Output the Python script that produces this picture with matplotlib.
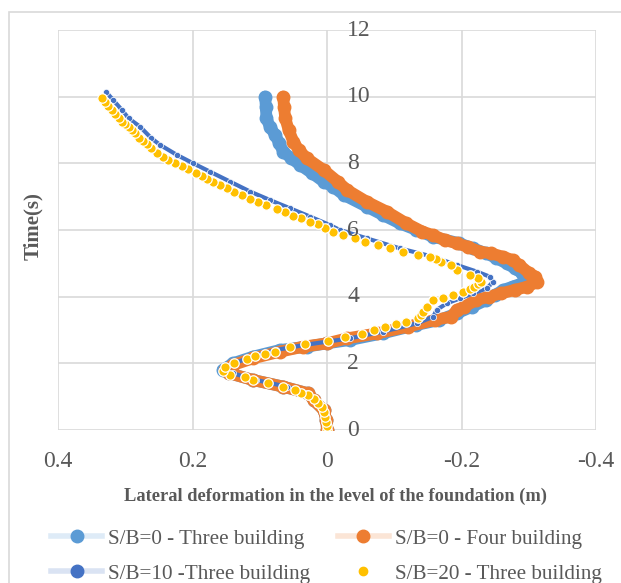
import matplotlib.pyplot as plt
from matplotlib.lines import Line2D
from matplotlib.patches import Rectangle

plt.rcParams['font.family'] = ['Liberation Serif', 'DejaVu Serif']

# S/B=0 - Three building
t_sb0_three = [0, 0.3, 0.6, 0.9, 1.1, 1.3, 1.5, 1.7, 1.8, 2.0, 2.2, 2.4, 2.5, 2.6, 2.7,
               2.9, 3.15, 3.3, 3.5, 3.7, 3.9, 4.05, 4.2, 4.3, 4.4, 4.5, 4.6, 4.7, 4.85,
               5.0, 5.15, 5.3, 5.45, 5.6, 5.8, 6.0, 6.2, 6.45, 6.7, 7.05, 7.3, 7.45,
               7.7, 7.95, 8.15, 8.35, 8.6, 8.85, 9.1, 9.35, 9.7, 10.0]
x_sb0_three = [0, 0.001, 0.005, 0.02, 0.028, 0.065, 0.11, 0.145, 0.155, 0.14, 0.11, 0.07,
               0.03, 0.0, -0.034, -0.083, -0.133, -0.167, -0.193, -0.216, -0.237, -0.25,
               -0.262, -0.276, -0.29, -0.305, -0.298, -0.29, -0.279, -0.267, -0.252,
               -0.237, -0.217, -0.197, -0.157, -0.133, -0.108, -0.083, -0.059, -0.025,
               -0.009, 0.005, 0.022, 0.040, 0.053, 0.065, 0.071, 0.077, 0.085, 0.090,
               0.091, 0.092]

# S/B=0 - Four building
t_sb0_four = [0, 0.3, 0.6, 0.9, 1.1, 1.3, 1.5, 1.7, 1.8, 1.95, 2.15, 2.35, 2.5, 2.6,
              2.75, 2.9, 3.1, 3.3, 3.4, 3.6, 3.7, 3.9, 4.0, 4.1, 4.2, 4.3, 4.45, 4.6,
              4.7, 4.95, 5.1, 5.2, 5.3, 5.35, 5.5, 5.6, 5.7, 5.85, 5.95, 6.2, 6.55,
              6.85, 7.2, 7.45, 7.8, 8.15, 8.4, 8.65, 9.0, 9.35, 9.7, 10.0]
x_sb0_four = [0, 0.001, 0.005, 0.02, 0.028, 0.065, 0.11, 0.145, 0.152, 0.14, 0.11, 0.07,
              0.035, 0.0, -0.03, -0.075, -0.12, -0.16, -0.185, -0.193, -0.204, -0.222,
              -0.241, -0.259, -0.279, -0.298, -0.313, -0.31, -0.301, -0.286, -0.276,
              -0.261, -0.244, -0.227, -0.209, -0.193, -0.175, -0.157, -0.142, -0.118,
              -0.089, -0.059, -0.03, -0.016, 0.005, 0.030, 0.042, 0.050, 0.057, 0.062,
              0.064, 0.065]

# S/B=10 - Three building
t_sb10 = [0, 0.3, 0.6, 0.9, 1.1, 1.3, 1.5, 1.7, 1.85, 2.0, 2.2, 2.4, 2.55, 2.65, 2.75,
          2.95, 3.2, 3.4, 3.6, 3.8, 3.95, 4.1, 4.25, 4.45, 4.6, 4.75, 4.95, 5.2, 5.45,
          5.75, 6.0, 6.15, 6.4, 6.65, 6.9, 7.15, 7.45, 7.75, 8.0, 8.25, 8.55, 8.75,
          9.1, 9.35, 9.6, 9.9, 10.13]
x_sb10 = [0, 0.002, 0.008, 0.018, 0.03, 0.06, 0.105, 0.14, 0.152, 0.138, 0.112, 0.076,
          0.034, 0.0, -0.034, -0.083, -0.134, -0.158, -0.163, -0.178, -0.198, -0.217,
          -0.238, -0.247, -0.242, -0.223, -0.193, -0.157, -0.108, -0.059, -0.019,
          -0.004, 0.025, 0.055, 0.085, 0.114, 0.144, 0.174, 0.199, 0.223, 0.248,
          0.261, 0.278, 0.295, 0.305, 0.318, 0.328]

# S/B=20 - Three building
t_sb20 = [0, 0.12, 0.25, 0.4, 0.55, 0.68, 0.8, 0.92, 1.05, 1.12, 1.2, 1.3, 1.42, 1.5,
          1.58, 1.65, 1.78, 1.9, 2.0, 2.12, 2.22, 2.28, 2.35, 2.48, 2.58, 2.68, 2.78,
          2.88, 3.0, 3.09, 3.17, 3.24, 3.36, 3.45, 3.55, 3.69, 3.9, 3.96, 4.05, 4.14,
          4.22, 4.29, 4.38, 4.45, 4.55, 4.65, 4.8, 4.95, 5.04, 5.12, 5.19, 5.25, 5.34,
          5.46, 5.55, 5.64, 5.76, 5.85, 5.95, 6.07, 6.17, 6.25, 6.35, 6.43, 6.53,
          6.63, 6.75, 6.83, 6.93, 7.05, 7.15, 7.25, 7.35, 7.43, 7.52, 7.63, 7.72,
          7.83, 7.92, 8.0, 8.1, 8.2, 8.32, 8.45, 8.57, 8.67, 8.77, 8.9, 9.0, 9.08,
          9.17, 9.25, 9.35, 9.47, 9.6, 9.73, 9.85, 9.97]
x_sb20 = [0.0, 0.0, 0.001, 0.003, 0.004, 0.008, 0.013, 0.020, 0.028, 0.038, 0.048,
          0.065, 0.087, 0.110, 0.122, 0.144, 0.155, 0.152, 0.139, 0.119, 0.107, 0.092,
          0.077, 0.055, 0.033, -0.002, -0.027, -0.052, -0.07, -0.086, -0.102, -0.118,
          -0.135, -0.14, -0.143, -0.148, -0.157, -0.172, -0.187, -0.202, -0.212,
          -0.219, -0.225, -0.229, -0.225, -0.212, -0.194, -0.185, -0.170, -0.162,
          -0.153, -0.135, -0.113, -0.093, -0.076, -0.056, -0.041, -0.024, -0.009,
          0.003, 0.014, 0.025, 0.039, 0.051, 0.062, 0.075, 0.090, 0.102, 0.114, 0.127,
          0.138, 0.149, 0.159, 0.169, 0.179, 0.186, 0.195, 0.206, 0.216, 0.226, 0.236,
          0.244, 0.253, 0.261, 0.268, 0.273, 0.279, 0.285, 0.290, 0.295, 0.300, 0.305,
          0.310, 0.315, 0.320, 0.325, 0.330, 0.335]

x_ticks = [0.4, 0.2, 0, -0.2, -0.4]
x_ticklabels = ['0.4', '0.2', '0', '-0.2', '-0.4']
y_ticks = [0, 2, 4, 6, 8, 10, 12]

gray = '#595959'
c_light = '#5B9BD5'
c_orange = '#ED7D31'
c_dark = '#4472C4'
c_yellow = '#FFC000'

fig = plt.figure(figsize=(6.21, 5.83), dpi=100)
# outer chart-area border (partly cut off in the original)
fig.patches.append(Rectangle((9 / 621, -0.1), 1.2, 1 - 12 / 583 + 0.1,
                             transform=fig.transFigure, fill=False,
                             edgecolor='#D9D9D9', lw=1.2))
ax = fig.add_axes([58 / 621, 1 - 430 / 583, 538 / 621, 400 / 583])

ax.plot(x_sb0_three, t_sb0_three, color=c_light, lw=8.5, marker='o', ms=9,
        mec=c_light, solid_capstyle='round', solid_joinstyle='round', zorder=3)
ax.plot(x_sb0_four, t_sb0_four, color=c_orange, lw=8.5, marker='o', ms=9,
        mec=c_orange, solid_capstyle='round', solid_joinstyle='round', zorder=3.5)
ax.plot(x_sb10, t_sb10, color=c_dark, lw=3, marker='o', ms=4.5, mec='white', mew=0.5,
        zorder=4)
ax.plot(x_sb20, t_sb20, ls='none', marker='o', ms=6.8, color=c_yellow, mec='white',
        mew=0.9, zorder=5)

ax.set_xlim(0.4, -0.4)
ax.set_ylim(0, 12)
ax.set_xticks(x_ticks)
ax.set_xticklabels(x_ticklabels)
ax.set_yticks(y_ticks)
ax.set_yticklabels([])
ax.grid(True, color='#D9D9D9', lw=1.2)
ax.set_axisbelow(True)
for s in ax.spines.values():
    s.set_visible(False)
ax.tick_params(length=0, labelsize=17, labelcolor=gray)
ax.tick_params(axis='x', pad=15)

# y tick labels sit next to the vertical axis at x=0
for v in y_ticks:
    ax.text(-0.03, v, str(v), fontsize=17, color=gray, ha='left', va='center',
            zorder=6)

ax.set_ylabel('Time(s)', fontsize=15, fontweight='bold', color=gray)
ax.yaxis.set_label_coords(-0.028, 0.51)
ax.set_xlabel('Lateral deformation in the level of the foundation (m)', fontsize=13.2,
              fontweight='bold', color=gray)
ax.xaxis.set_label_coords(0.515, -0.145)

handles = [
    Line2D([], [], color='#DEEBF7', lw=4, marker='o', ms=9, mfc=c_light, mec=c_light),
    Line2D([], [], color='#DAE3F3', lw=4, marker='o', ms=9, mfc=c_dark, mec=c_dark),
    Line2D([], [], color='#FBE5D6', lw=4, marker='o', ms=9, mfc=c_orange, mec=c_orange),
    Line2D([], [], ls='none', marker='o', ms=6, mfc=c_yellow, mec=c_yellow),
]
labels = ['S/B=0 - Three building', 'S/B=10 -Three building',
          'S/B=0 - Four building', 'S/B=20 - Three building']
leg = fig.legend(handles, labels, ncol=2, loc='center',
                 bbox_to_anchor=(0.526, 0.046), frameon=False, fontsize=15.2,
                 handlelength=2.4, columnspacing=1.3, handletextpad=0.3,
                 labelspacing=0.72, borderpad=0, labelcolor=gray)

fig.savefig('out.png', dpi=100)
